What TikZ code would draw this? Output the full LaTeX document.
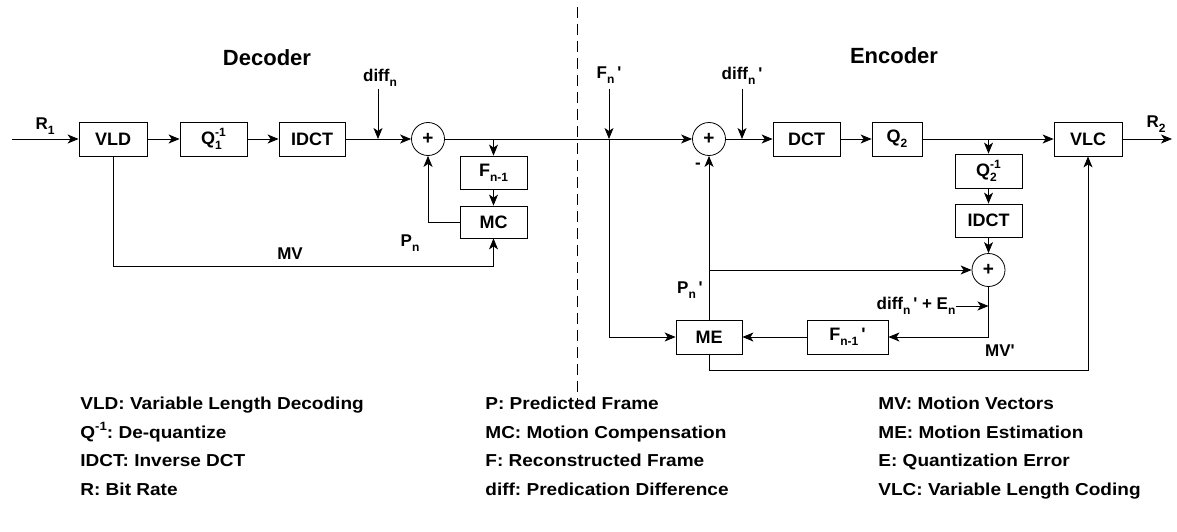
\documentclass[tikz,border=0pt]{standalone}
\usepackage{fontspec}
\setmainfont{Liberation Sans}
\newfontfamily\lgfont[FakeStretch=1.1]{Liberation Sans}
\usetikzlibrary{arrows.meta}
\newcommand\dn[1]{\raisebox{-0.5ex}{\fontsize{12}{12}\selectfont #1}}
\newcommand\up[1]{\raisebox{0.8ex}{\fontsize{12}{12}\selectfont #1}}
\newcommand\pr{\,\textquotesingle}
\frenchspacing
\begin{document}
\frenchspacing
\begin{tikzpicture}[x=1pt,y=-1pt, line width=0.8pt,
 box/.style={draw, minimum width=#1, minimum height=34pt, inner sep=0pt, font=\fontsize{18}{18}\selectfont\bfseries},
 box/.default=67pt,
 sumc/.style={draw,circle,minimum size=33pt,inner sep=0pt,font=\fontsize{19}{19}\selectfont\bfseries},
 lbl/.style={font=\fontsize{17}{17}\selectfont\bfseries, inner sep=0pt},
 arr/.style={-{Stealth[length=11pt,width=9pt,inset=3pt]}},
 lg/.style={anchor=base west, inner sep=0pt, font=\lgfont\fontsize{17.3}{17.3}\selectfont\bfseries},
 hd/.style={font=\fontsize{22}{22}\selectfont\bfseries}]
\useasboundingbox (0,0) rectangle (1177,532);
% boxes
\node[box=68pt] (VLD) at (113,139) {VLD};
\node[box] (Q1) at (213.5,139) {Q\rlap{\dn{1}}\up{-1}};
\node[box=66pt] (IDCTa) at (312,139) {IDCT};
\node[sumc] (S1) at (428,139) {+};
\node[box, minimum height=33pt] (Fa) at (493.5,172.5) {F\dn{n-1}};
\node[box, minimum height=32pt] (MC) at (493.5,222) {MC};
\node[sumc] (S2) at (709,139) {+};
\node[box] (DCT) at (806.5,139) {DCT};
\node[box=50pt] (Q2) at (897,139) {Q\dn{2}};
\node[box=68pt] (VLC) at (1088,139) {VLC};
\node[box] (Q2i) at (988.5,171) {Q\rlap{\dn{2}}\up{-1}};
\node[box, minimum height=33pt] (IDCTb) at (988.5,220.5) {IDCT};
\node[sumc] (S3) at (988.5,270) {+};
\node[box=66pt] (ME) at (709,337) {ME};
\node[box=81pt] (Fb) at (847.5,337) {F\dn{n-1}\pr};
% labels
\node[hd] (dech) at (267,58) {Decoder};
\node[hd] (ench) at (894,56) {Encoder};
\node[lbl] (R1) at (45,126) {R\dn{1}};
\node[lbl] (dn) at (380,78) {diff\dn{n}};
\node[lbl] (MV) at (290,254) {MV};
\node[lbl] (Pn) at (410,243) {P\dn{n}};
\node[lbl] (Fnp) at (609,75) {F\dn{n}\pr};
\node[lbl] (dnp) at (742,76) {diff\dn{n}\pr};
\node[lbl] (minus) at (698,166) {-};
\node[lbl] (Pnp) at (690,290) {P\dn{n}\pr};
\node[lbl] (dE) at (916,306) {diff\dn{n}\pr{} + E\dn{n}};
\node[lbl] (MVp) at (1000,351) {MV\textquotesingle};
\node[lbl] (R2) at (1156,124) {R\dn{2}};
% coordinates
\coordinate (in) at (12,139);
\coordinate (dntop) at (378,89);
\coordinate (dnj) at (378,139);
\coordinate (t1) at (493.5,139);
\coordinate (mvc) at (493.5,266);
\coordinate (fntop) at (609,89);
\coordinate (fnj) at (609,139);
\coordinate (dptop) at (742,89);
\coordinate (dpj) at (742,139);
\coordinate (t2) at (988.5,139);
\coordinate (t3) at (709,270);
\coordinate (mvp) at (1088,370);
\coordinate (out) at (1172,139);
\coordinate (dEj) at (988.5,306);
\coordinate (dtop) at (577,7);
\coordinate (dbot) at (577,403);
% dashed divider
\draw[line width=1pt, dash pattern=on 11pt off 6pt] (dtop) -- (dbot);
% decoder connectors
\draw[arr] (in) -- (VLD);
\draw[arr] (VLD) -- (Q1);
\draw[arr] (Q1) -- (IDCTa);
\draw[arr] (IDCTa) -- (S1);
\draw[arr] (dntop) -- (dnj);
\draw[arr] (S1) -- (S2);
\draw[arr] (t1) -- (Fa);
\draw[arr] (Fa) -- (MC);
\draw[arr] (MC.west) -| (S1.south);
\draw[arr] (VLD.south) |- (mvc) -- (MC.south);
% encoder connectors
\draw[arr] (fntop) -- (fnj);
\draw[arr] (fnj) |- (ME.west);
\draw[arr] (S2) -- (DCT);
\draw[arr] (dptop) -- (dpj);
\draw[arr] (DCT) -- (Q2);
\draw[arr] (Q2) -- (VLC);
\draw[arr] (t2) -- (Q2i);
\draw[arr] (Q2i) -- (IDCTb);
\draw[arr] (IDCTb) -- (S3);
\draw[arr] (S3.south) |- (Fb.east);
\draw[arr] (Fb) -- (ME);
\draw[arr] (ME) -- (S2);
\draw[arr] (t3) -- (S3);
\draw[arr] (ME.south) |- (mvp) -- (VLC.south);
\draw[arr] (VLC) -- (out);
\draw[arr] (dE.east) -- (dEj);
% legend
\node[lg] (l11) at (80,409) {VLD: Variable Length Decoding};
\node[lg] (l12) at (80,438) {Q\up{-1}: De-quantize};
\node[lg] (l13) at (80,466) {IDCT: Inverse DCT};
\node[lg] (l14) at (80,495) {R: Bit Rate};
\node[lg] (l21) at (485,409) {P: Predicted Frame};
\node[lg] (l22) at (485,438) {MC: Motion Compensation};
\node[lg] (l23) at (485,466) {F: Reconstructed Frame};
\node[lg] (l24) at (485,495) {diff: Predication Difference};
\node[lg] (l31) at (878,409) {MV: Motion Vectors};
\node[lg] (l32) at (878,438) {ME: Motion Estimation};
\node[lg] (l33) at (878,466) {E: Quantization Error};
\node[lg] (l34) at (878,495) {VLC: Variable Length Coding};
\end{tikzpicture}
\end{document}
